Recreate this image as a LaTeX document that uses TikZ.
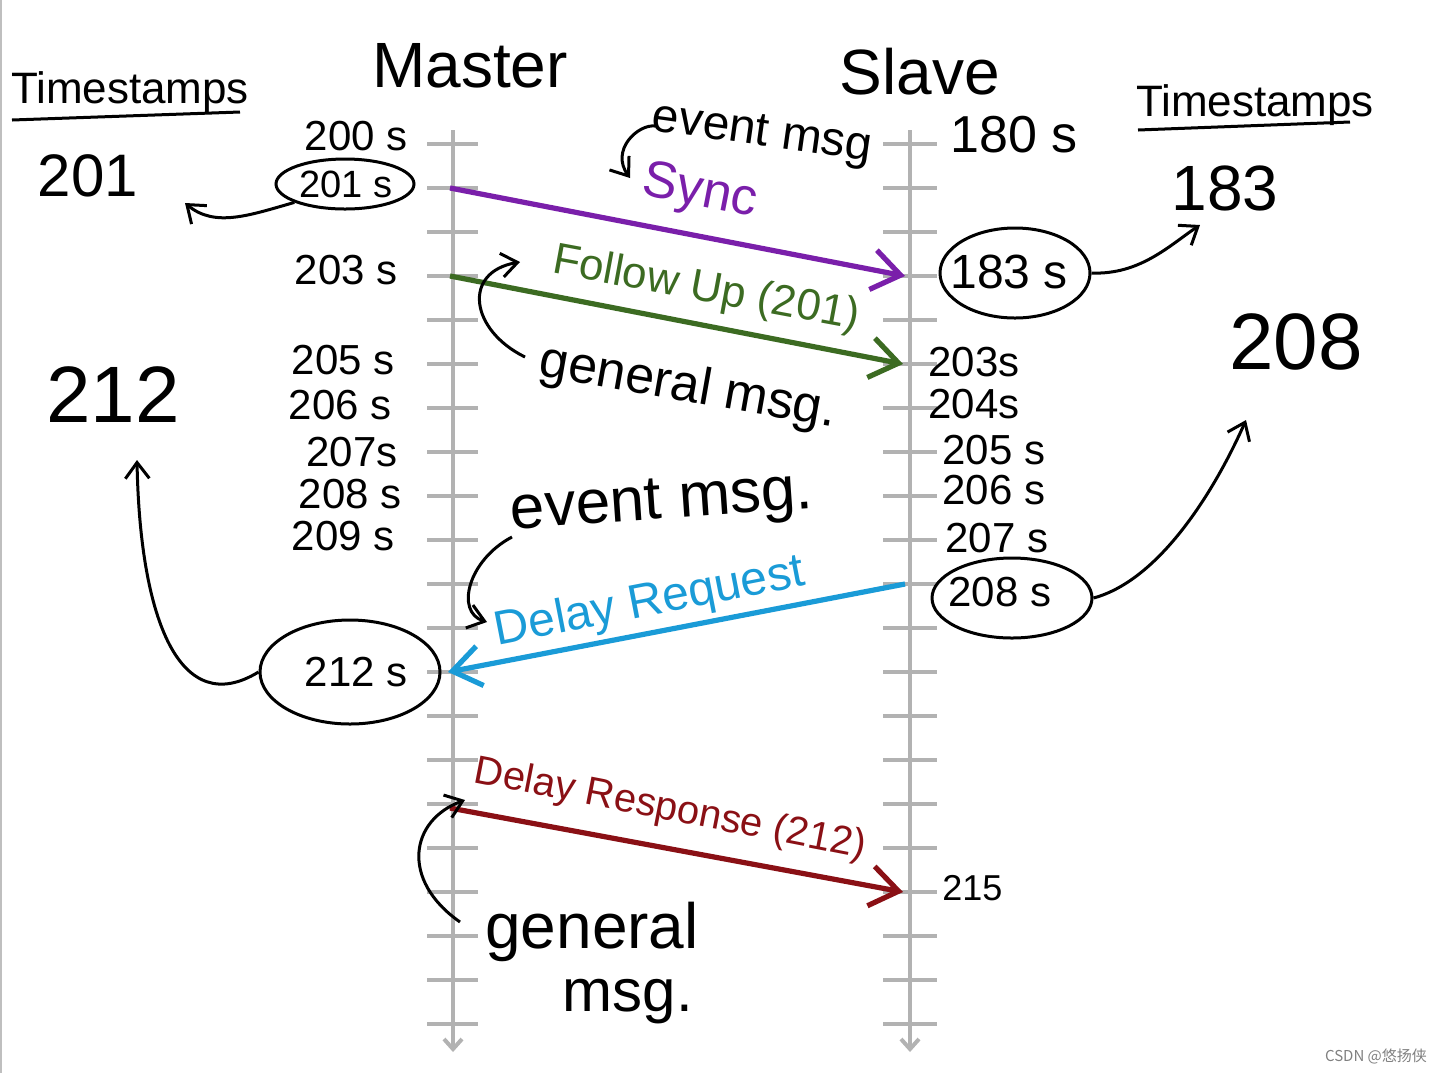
\documentclass[tikz,border=0pt]{standalone}
\usepackage{fontspec}
\setmainfont{Liberation Sans}
\newfontfamily\cjk{Noto Sans CJK SC}
\usetikzlibrary{arrows.meta,shapes.geometric}
\definecolor{tlc}{HTML}{B2B2B2}
\definecolor{syncc}{HTML}{7A1FAA}
\definecolor{fupc}{HTML}{3C6B22}
\definecolor{reqc}{HTML}{1A9BD7}
\definecolor{respc}{HTML}{8A1015}
\newcommand{\fs}[1]{\fontsize{#1}{#1}\selectfont}
\begin{document}
\begin{tikzpicture}[x=0.5pt,y=-0.5pt,
  tickmark/.style={draw=tlc,line width=1.6pt},
  timeline/.style={draw=tlc,line width=2pt,-{Straight Barb[length=5pt,width=9pt]}},
  msgarrow/.style={line width=2.6pt,-{Straight Barb[length=14pt,width=20pt]}},
  handarrow/.style={draw,line width=1.5pt,-{Straight Barb[length=8pt,width=12pt]}},
  stamp/.style={inner sep=0pt,font=\fs{21}},
  oval/.style={ellipse,draw,line width=1.5pt,inner sep=0pt},
  big/.style={inner sep=0pt,font=\fs{40}},
  title/.style={inner sep=0pt,font=\fs{32}},
  tshead/.style={inner sep=0pt,font=\fs{22}},
  note/.style={inner sep=0pt}]
\useasboundingbox (0,0) rectangle (1440,1073);
\draw[gray!50,line width=1pt] (1,0) -- (1,1073);

% timelines
\coordinate (mtop) at (453,130); \coordinate (mbot) at (453,1052);
\coordinate (stop) at (910,130); \coordinate (sbot) at (910,1052);
\foreach \k in {0,...,20}{
  \draw[tickmark] (427,{144+44*\k}) -- (478,{144+44*\k});
  \draw[tickmark] (883,{144+44*\k}) -- (937,{144+44*\k});
}
\draw[timeline] (mtop) -- (mbot);
\draw[timeline] (stop) -- (sbot);

% headings
\node[title] (master) at (470,66) {Master};
\node[title] (slave) at (920,72) {Slave};
\node[tshead] (tsl) at (130,92) {Timestamps};
\coordinate (ul1) at (12,120); \coordinate (ul2) at (240,112);
\draw[line width=1.5pt] (ul1) -- (ul2);
\node[tshead] (tsr) at (1255,105) {Timestamps};
\coordinate (ur1) at (1138,130); \coordinate (ur2) at (1350,122);
\draw[line width=1.5pt] (ur1) -- (ur2);

% big timestamp values
\node[inner sep=0pt,font=\fs{30}] (v201) at (88,176) {201};
\node[inner sep=0pt,font=\fs{32}] (v183) at (1225,188) {183};
\node[big] (v208) at (1296,342) {208};
\node[big] (v212) at (113,395) {212};

% master stamps
\node[stamp,anchor=east] (m200) at (408,136) {200 s};
\node[inner sep=0pt,font=\fs{19}] (m201) at (346,184) {201 s};
\node[oval,minimum width=69pt,minimum height=25pt] (e201) at (345,184) {};
\node[stamp,anchor=east] (m203) at (398,270) {203 s};
\node[stamp,anchor=east] (m205) at (395,360) {205 s};
\node[stamp,anchor=east] (m206) at (392,405) {206 s};
\node[stamp,anchor=east] (m207) at (398,452) {207s};
\node[stamp,anchor=east] (m208) at (402,494) {208 s};
\node[stamp,anchor=east] (m209) at (395,536) {209 s};
\node[stamp,anchor=east] (m212) at (408,672) {212 s};
\node[oval,minimum width=90pt,minimum height=52pt] (e212) at (350,672) {};

% slave stamps
\node[inner sep=0pt,font=\fs{26},anchor=west] (s180) at (950,135) {180 s};
\node[inner sep=0pt,font=\fs{24},anchor=west] (s183) at (950,272) {183 s};
\node[oval,minimum width=75pt,minimum height=45pt] (e183) at (1015,273) {};
\node[stamp,anchor=west] (s203) at (928,362) {203s};
\node[stamp,anchor=west] (s204) at (928,404) {204s};
\node[stamp,anchor=west] (s205) at (942,450) {205 s};
\node[stamp,anchor=west] (s206) at (942,490) {206 s};
\node[stamp,anchor=west] (s207) at (945,538) {207 s};
\node[stamp,anchor=west] (s208) at (948,592) {208 s};
\node[oval,minimum width=80pt,minimum height=40pt] (e208) at (1012,598) {};
\node[inner sep=0pt,font=\fs{18},anchor=west] (s215) at (942,888) {215};

% message arrows
\coordinate (syncS) at (450,188); \coordinate (syncE) at (905,276);
\coordinate (fupS) at (450,276); \coordinate (fupE) at (903,364);
\coordinate (reqS) at (905,584); \coordinate (reqE) at (448,672);
\coordinate (respS) at (450,808); \coordinate (respE) at (903,892);
\draw[msgarrow,syncc] (syncS) -- (syncE);
\draw[msgarrow,fupc] (fupS) -- (fupE);
\draw[msgarrow,reqc] (reqS) -- (reqE);
\draw[msgarrow,respc] (respS) -- (respE);

% arrow labels
\node[note,font=\fs{26},text=syncc,rotate=-11] (sync) at (700,193) {Sync};
\node[note,font=\fs{22},text=fupc,rotate=-10.5] (fup) at (706,290) {Follow Up (201)};
\node[note,font=\fs{24},text=reqc,rotate=11] (req) at (650,603) {Delay Request};
\node[note,font=\fs{20},text=respc,rotate=-11] (resp) at (670,810) {Delay Response (212)};

% notes
\node[note,font=\fs{24},rotate=-8] (evt1) at (762,135) {event msg};
\node[note,font=\fs{26},rotate=-10] (gen1) at (688,388) {general msg.};
\node[note,font=\fs{31},rotate=4] (evt2) at (662,505) {event msg.};
\node[note,font=\fs{32}] (gen2) at (592,932) {general};
\node[note,font=\fs{30}] (msg2) at (628,1002) {msg.};

% hand-drawn pointer arrows
\coordinate (a201) at (185,203);
\draw[handarrow] (e201.200) .. controls (250,215) and (215,228) .. (a201);
\coordinate (a183) at (1200,225);
\draw[handarrow] (e183.east) .. controls (1140,275) and (1170,245) .. (a183);
\coordinate (a208) at (1246,420);
\draw[handarrow] (e208.east) .. controls (1160,580) and (1215,490) .. (a208);
\coordinate (a212) at (137,460);
\draw[handarrow] (e212.west) .. controls (180,720) and (140,620) .. (a212);
\coordinate (p1s) at (655,126); \coordinate (p1e) at (630,178);
\draw[handarrow] (p1s) .. controls (638,124) and (610,150) .. (p1e);
\coordinate (p2s) at (525,357); \coordinate (p2e) at (520,262);
\draw[handarrow] (p2s) .. controls (470,330) and (462,272) .. (p2e);
\coordinate (p3s) at (512,537); \coordinate (p3e) at (487,622);
\draw[handarrow] (p3s) .. controls (468,560) and (455,612) .. (p3e);
\coordinate (p4s) at (460,922); \coordinate (p4e) at (465,800);
\draw[handarrow] (p4s) .. controls (400,880) and (410,820) .. (p4e);

% watermark
\node[inner sep=0pt,font=\cjk\fs{7.5},text=gray] (wm) at (1376,1056) {CSDN @悠扬侠};
\end{tikzpicture}
\end{document}
